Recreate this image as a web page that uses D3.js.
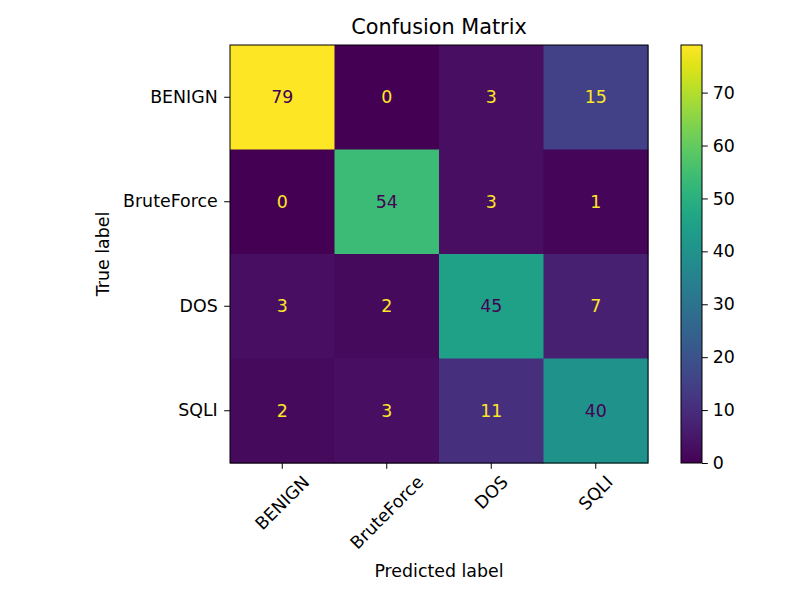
<!DOCTYPE html>
<html>
<head>
<meta charset="utf-8">
<script src="https://cdn.jsdelivr.net/npm/d3@7"></script>
<style>
  body { margin: 0; background: #fff; }
  text { font-family: "DejaVu Sans", sans-serif; fill: #000; }
</style>
</head>
<body>
<svg id="chart" width="795" height="596"></svg>
<script>
const labels = ["BENIGN", "BruteForce", "DOS", "SQLI"];
const matrix = [
  [79, 0, 3, 15],
  [0, 54, 3, 1],
  [3, 2, 45, 7],
  [2, 3, 11, 40]
];
const cbarTicks = [0, 10, 20, 30, 40, 50, 60, 70];

const svg = d3.select("#chart");
const fontSize = 17.4;
const tick = 5.8;

const plot = { left: 230, top: 45, size: 418 };
const cbar = { left: 681, top: 45, width: 21, height: 418 };

const flat = matrix.flat();
const vmin = d3.min(flat), vmax = d3.max(flat);
const color = d3.scaleSequential(d3.interpolateViridis).domain([vmin, vmax]);
const thresh = (vmin + vmax) / 2;

const x = d3.scaleBand().domain(labels).range([plot.left, plot.left + plot.size]);
const y = d3.scaleBand().domain(labels).range([plot.top, plot.top + plot.size]);

const cells = [];
matrix.forEach((row, i) => row.forEach((v, j) => cells.push({ t: labels[i], p: labels[j], v })));

svg.append("g").selectAll("rect")
  .data(cells)
  .join("rect")
  .attr("x", d => x(d.p))
  .attr("y", d => y(d.t))
  .attr("width", x.bandwidth() + 0.5)
  .attr("height", y.bandwidth() + 0.5)
  .attr("fill", d => color(d.v));

svg.append("g").selectAll("text")
  .data(cells)
  .join("text")
  .attr("x", d => x(d.p) + x.bandwidth() / 2)
  .attr("y", d => y(d.t) + y.bandwidth() / 2)
  .attr("text-anchor", "middle")
  .attr("dominant-baseline", "central")
  .style("font-size", fontSize + "px")
  .style("fill", d => d.v >= thresh ? color(vmin) : color(vmax))
  .text(d => d.v);

svg.append("rect")
  .attr("x", plot.left).attr("y", plot.top)
  .attr("width", plot.size).attr("height", plot.size)
  .attr("fill", "none").attr("stroke", "#000").attr("stroke-width", 1);

// y axis
const yAxis = svg.append("g")
  .attr("transform", `translate(${plot.left},0)`)
  .call(d3.axisLeft(y).tickSize(tick).tickPadding(6.5));
yAxis.select(".domain").remove();
yAxis.selectAll("text").style("font-size", fontSize + "px").style("font-family", "DejaVu Sans");

// x axis with rotated labels
const xAxis = svg.append("g")
  .attr("transform", `translate(0,${plot.top + plot.size})`)
  .call(d3.axisBottom(x).tickSize(tick).tickFormat(""));
xAxis.select(".domain").remove();

const c45 = Math.SQRT1_2;
labels.forEach(l => {
  const t = svg.append("text")
    .style("font-size", fontSize + "px")
    .attr("text-anchor", "middle")
    .attr("dominant-baseline", "central")
    .text(l);
  const w = t.node().getComputedTextLength();
  const bh = (w + fontSize) * c45;
  const cx = x(l) + x.bandwidth() / 2;
  const cy = plot.top + plot.size + tick + 4 + bh / 2;
  t.attr("x", cx).attr("y", cy).attr("transform", `rotate(-45,${cx},${cy})`);
});

// colorbar
const defs = svg.append("defs");
const grad = defs.append("linearGradient").attr("id", "cb")
  .attr("x1", 0).attr("y1", 1).attr("x2", 0).attr("y2", 0);
d3.range(0, 1.0001, 0.05).forEach(s => {
  grad.append("stop").attr("offset", s).attr("stop-color", d3.interpolateViridis(s));
});
svg.append("rect")
  .attr("x", cbar.left).attr("y", cbar.top)
  .attr("width", cbar.width).attr("height", cbar.height)
  .attr("fill", "url(#cb)").attr("stroke", "#000").attr("stroke-width", 1);

const cy = d3.scaleLinear().domain([vmin, vmax]).range([cbar.top + cbar.height, cbar.top]);
const cAxis = svg.append("g")
  .attr("transform", `translate(${cbar.left + cbar.width},0)`)
  .call(d3.axisRight(cy).tickValues(cbarTicks).tickSize(tick).tickPadding(5));
cAxis.select(".domain").remove();
cAxis.selectAll("text").style("font-size", fontSize + "px").style("font-family", "DejaVu Sans");

// labels
svg.append("text")
  .attr("x", plot.left + plot.size / 2).attr("y", 27)
  .attr("text-anchor", "middle").attr("dominant-baseline", "central")
  .style("font-size", "20.8px")
  .text("Confusion Matrix");

svg.append("text")
  .attr("x", plot.left + plot.size / 2).attr("y", 571)
  .attr("text-anchor", "middle").attr("dominant-baseline", "central")
  .style("font-size", fontSize + "px")
  .text("Predicted label");

svg.append("text")
  .attr("transform", `translate(103,${plot.top + plot.size / 2}) rotate(-90)`)
  .attr("text-anchor", "middle").attr("dominant-baseline", "central")
  .style("font-size", fontSize + "px")
  .text("True label");
</script>
</body>
</html>
